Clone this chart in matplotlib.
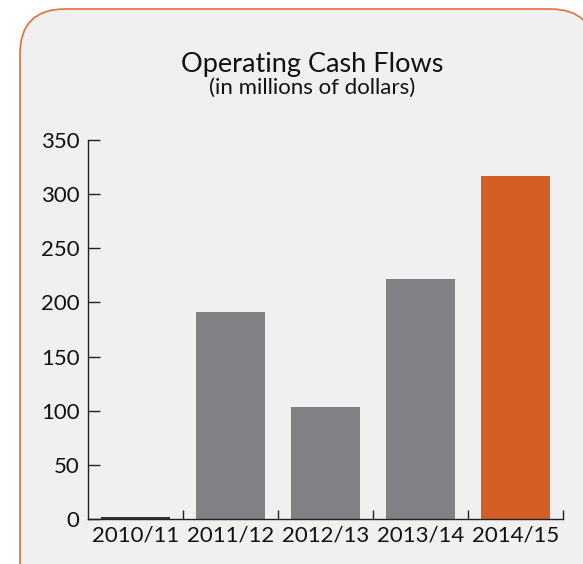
import matplotlib.pyplot as plt
from matplotlib.patches import FancyBboxPatch
from matplotlib.transforms import IdentityTransform

years = ["2010/11", "2011/12", "2012/13", "2013/14", "2014/15"]
cash_flows = [1.5, 191, 103, 222, 317]
bar_colors = ["#333333", "#808085", "#808085", "#808085", "#d35f27"]

plt.rcParams['font.family'] = ['Lato', 'DejaVu Sans']

fig = plt.figure(figsize=(5.83, 5.64), dpi=100)
fig.patch.set_facecolor("white")

# rounded panel behind the chart (pixel coordinates)
panel = FancyBboxPatch((20, -60), 575, 615,
                       boxstyle="round,pad=0,rounding_size=45",
                       transform=IdentityTransform(),
                       facecolor="#f0f0f0", edgecolor="#e0703a",
                       linewidth=1.2, zorder=-5)
fig.patches.append(panel)

ax = fig.add_axes([88 / 583, 45 / 564, 475 / 583, 379 / 564])
ax.set_zorder(2)
ax.patch.set_alpha(0)

x = range(len(years))
ax.bar(x, cash_flows, width=0.73, color=bar_colors, zorder=2)

ax.set_xlim(-0.5, len(years) - 0.5)
ax.set_ylim(0, 350)
ax.set_yticks(range(0, 351, 50))

# tick marks sit on category boundaries, labels under bar centres
ax.set_xticks([i + 0.5 for i in x])
ax.set_xticklabels([])
ax.set_xticks(list(x), minor=True)
ax.set_xticklabels(years, minor=True)

for s in ["top", "right"]:
    ax.spines[s].set_visible(False)
for s in ["left", "bottom"]:
    ax.spines[s].set_color("#222222")
    ax.spines[s].set_linewidth(1.0)

ax.tick_params(axis="y", direction="in", length=8.5, width=1.0,
               color="#222222", labelsize=16, pad=6, labelcolor="#111111")
ax.tick_params(axis="x", which="major", direction="in", length=6.5,
               width=1.0, color="#222222")
ax.tick_params(axis="x", which="minor", length=0, labelsize=16,
               pad=5, labelcolor="#111111")

fig.text(312 / 583, 1 - 72 / 564, "Operating Cash Flows",
         ha="center", va="baseline", fontsize=19.5, color="#111111",
         zorder=3)
fig.text(312 / 583, 1 - 94 / 564, "(in millions of dollars)",
         ha="center", va="baseline", fontsize=16, color="#111111",
         zorder=3)

fig.savefig("out.png", dpi=100)
